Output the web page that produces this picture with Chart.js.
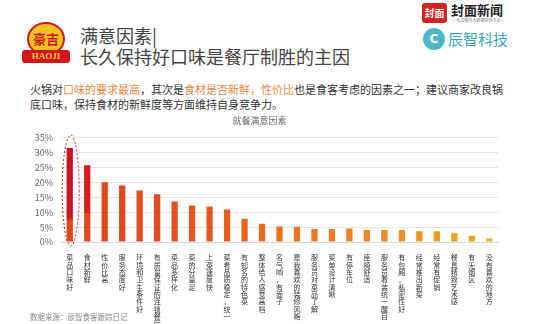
<!DOCTYPE html>
<html>
<head>
<meta charset="utf-8">
<script src="https://cdn.jsdelivr.net/npm/chart.js@4"></script>
<style>
body{margin:0;width:540px;height:324px;overflow:hidden;background:#fff;position:relative;font-family:"Noto Sans CJK SC","Noto Sans",sans-serif}
.abs{position:absolute;white-space:nowrap}
#logo-ring{left:27px;top:22px;width:34px;height:30px;border-radius:50%;background:#f6c320;border:2px solid #d4161b;color:#c8161e;font-size:13px;font-weight:bold;line-height:30px;text-align:center}
#logo-band{left:22px;top:50px;width:48px;height:13px;border-radius:3px;background:#d4161b;color:#f7d04a;font:bold 9px "Liberation Serif",serif;line-height:13px;text-align:center}
#title1{left:80px;top:25px;font-size:18px;color:#444;line-height:21px}
#title2{left:80px;top:46px;font-size:18px;color:#444;line-height:21px}
#fm-box{left:422px;top:3px;width:25px;height:20px;border-radius:3px;background:#d8201e;color:#fff;font-size:10px;font-weight:bold;line-height:20px;text-align:center}
#fm-text{left:451px;top:2px;font-size:13px;font-weight:bold;color:#222;line-height:16px}
#fm-sub{left:452px;top:18px;font-size:4px;color:#777;line-height:5px}
#cz-dot{left:423px;top:28px;width:22px;height:22px;border-radius:50%;background:#4fb6c6;color:#fff;font:bold 12px "DejaVu Sans",sans-serif;line-height:22px;text-align:center}
#cz-text{left:448px;top:29px;font-size:15px;color:#3aa5b5;line-height:20px}
#intro{left:30px;top:82px;width:480px;font-size:11px;line-height:15px;color:#333;white-space:normal}
#intro span{color:#e8893c}
#source{left:30px;top:311px;font-size:7.5px;color:#888}
#wrap{position:absolute;left:0;top:110px;width:540px;height:214px}
</style>
</head>
<body>
<div class="abs" id="logo-ring">豪吉</div>
<div class="abs" id="logo-band">HAOJI</div>
<div class="abs" id="title1">满意因素|</div>
<div class="abs" id="title2">长久保持好口味是餐厅制胜的主因</div>
<div class="abs" id="fm-box">封面</div>
<div class="abs" id="fm-text">封面新闻</div>
<div class="abs" id="fm-sub">— 有态度的大数据资讯平台 —</div>
<div class="abs" id="cz-dot">C</div>
<div class="abs" id="cz-text">辰智科技</div>
<div class="abs" id="intro">火锅对<span>口味的要求最高</span>，其次是<span>食材是否新鲜，性价比</span>也是食客考虑的因素之一；建议商家改良锅底口味，保持食材的新鲜度等方面维持自身竞争力。</div>
<div id="wrap"><canvas id="chart"></canvas></div>
<div class="abs" id="source">数据来源：辰智食客跟踪日记</div>
<script>
// 就餐满意因素 (%)
const factors = ["菜品口味好", "食材新鲜", "性价比高", "服务态度好", "环境和卫生条件好", "有质量保证的连锁餐厅",
  "菜品多样化", "菜的分量足", "上菜速度快", "菜肴品质稳定，统一", "有知名的特色菜", "整体给人感觉高档",
  "名气响，有面子", "是我喜欢的装修风格", "服务员对菜品了解", "菜单设计清晰", "有停车位", "座椅舒适",
  "服务员着装统一醒目", "有包厢，私密性好", "经常推出新菜", "经常有促销", "餐具精致艺术感", "有无烟区", "没有喜欢的地方"];
const shares = [31.6, 25.8, 20.1, 19.0, 17.3, 16.0, 13.6, 12.3, 11.9, 10.9, 7.8, 6.1, 5.2,
  5.1, 4.4, 4.4, 4.5, 4.0, 4.0, 4.0, 3.6, 3.6, 2.9, 2.1, 1.2];
const yTicks = [0, 5, 10, 15, 20, 25, 30, 35];

const barColors = ["#e0461c", "#e2481c", "#e2461c", "#e3481c", "#e44a1c", "#e54c1c", "#e6501c", "#e7541c",
  "#e8581c", "#e95c1c", "#ea631d", "#eb681d", "#ec6e1e", "#ed731e", "#ed781f", "#ee7d1f", "#ee8220",
  "#ef8720", "#ef8c20", "#f09120", "#f09621", "#f09b21", "#f1a022", "#f1a522", "#f2ad26"];
const redTops = {0: ["#c9151f", 8.5], 1: ["#d81c1a", 10.5]};

const ellipse = {
  id: 'ellipse',
  afterDatasetsDraw(chart) {
    const {ctx, scales: {x, y}} = chart;
    const cx = x.getPixelForValue(0) + 1;
    const top = y.getPixelForValue(shares[0]) - 13;
    const bottom = y.getPixelForValue(0) + 4;
    ctx.save();
    ctx.strokeStyle = '#c8161e';
    ctx.lineWidth = 1;
    ctx.setLineDash([2, 2]);
    ctx.beginPath();
    ctx.ellipse(cx, (top + bottom) / 2, 8.5, (bottom - top) / 2, 0, 0, Math.PI * 2);
    ctx.stroke();
    ctx.restore();
  }
};

new Chart(document.getElementById('chart'), {
  type: 'bar',
  data: {
    labels: factors.map(s => Array.from(s)),
    datasets: [{
      data: shares,
      backgroundColor(c) {
        const i = c.dataIndex;
        const chart = c.chart;
        const area = chart.chartArea;
        if (!area || !(i in redTops)) return barColors[i];
        const y = chart.scales.y;
        const g = chart.ctx.createLinearGradient(0, area.top, 0, area.bottom);
        const split = (y.getPixelForValue(redTops[i][1]) - area.top) / (area.bottom - area.top);
        g.addColorStop(0, redTops[i][0]);
        g.addColorStop(split, redTops[i][0]);
        g.addColorStop(Math.min(1, split + 0.04), barColors[i]);
        g.addColorStop(1, barColors[i]);
        return g;
      },
      barPercentage: 0.36,
      categoryPercentage: 1
    }]
  },
  options: {
    responsive: true,
    maintainAspectRatio: false,
    animation: false,
    layout: {padding: {left: 21, right: 42, top: 0, bottom: 0}},
    plugins: {
      legend: {display: false},
      tooltip: {enabled: false},
      title: {
        display: true,
        text: '就餐满意因素',
        color: '#666',
        font: {family: '"Noto Sans CJK SC"', size: 9, weight: 'normal'},
        padding: {top: 5, bottom: 12}
      }
    },
    scales: {
      x: {
        grid: {display: false},
        border: {color: '#d9d9d9'},
        ticks: {
          color: '#333',
          autoSkip: false,
          maxRotation: 0,
          minRotation: 0,
          padding: 4,
          font: {family: '"Noto Sans CJK SC"', size: 7, lineHeight: 1.05}
        },
        afterFit(axis) { axis.height = 82; }
      },
      y: {
        min: 0,
        max: 35,
        afterBuildTicks(axis) { axis.ticks = yTicks.map(v => ({value: v})); },
        grid: {color: '#e4e4e4', drawTicks: false},
        border: {display: false},
        ticks: {
          color: '#666',
          padding: 8,
          font: {family: '"Noto Sans CJK SC"', size: 9},
          callback: v => v + '%'
        },
        afterFit(axis) { axis.width = 40; }
      }
    }
  },
  plugins: [ellipse]
});
</script>
</body>
</html>
